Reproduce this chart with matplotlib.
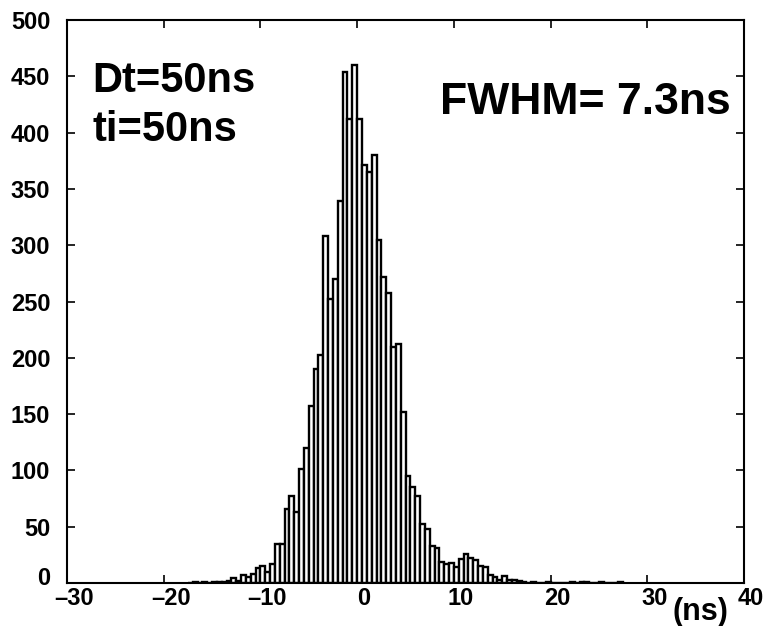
import numpy as np
import matplotlib
matplotlib.use("Agg")
import matplotlib.pyplot as plt
from matplotlib.transforms import ScaledTranslation

plt.rcParams.update({
    "font.family": ["Liberation Sans", "DejaVu Sans"],
    "font.weight": "bold",
})

# ---- data: timing histogram, 0.5 ns bins ----
bin_width = 0.5
first_edge = -17.5
counts = [
    0, 1, 0, 1, 0, 1, 1,
    1, 2, 4, 2, 7, 5, 8, 13, 15, 10, 17,
    35, 35, 66, 77, 63, 101, 120, 157, 190, 203,
    308, 252, 270, 339, 454, 412, 460, 412, 371, 365, 380, 305, 272, 258,
    210, 212, 152,
    95, 85, 77, 52, 48, 33, 31, 19, 17, 18, 14, 21, 26, 22, 20, 15, 14,
    7, 5, 3, 6, 3, 3, 2, 1,
    0, 1, 0, 0, 1, 0, 0, 0, 0, 1, 0, 1, 1, 0, 0, 1, 0, 0, 0, 1,
]
xticks = [-30, -20, -10, 0, 10, 20, 30, 40]
yticks = [0, 50, 100, 150, 200, 250, 300, 350, 400, 450, 500]
label_params = ["Dt=50ns", "ti=50ns"]
fwhm_label = "FWHM= 7.3ns"

left_edges = first_edge + bin_width * np.arange(len(counts))

fig = plt.figure(figsize=(7.65, 6.26), dpi=100)
ax = fig.add_axes([0.0876, 0.0687, 0.885, 0.899])

ax.bar(left_edges, counts, width=bin_width, align="edge",
       color="white", edgecolor="black", linewidth=1.7)

ax.set_xlim(-30, 40)
ax.set_ylim(0, 500)
ax.set_xticks(xticks)
ax.set_yticks(yticks)
ax.set_xticklabels([str(t).replace("-", "\u2013") for t in xticks])
ax.tick_params(direction="in", length=6, width=1.2, top=True, right=True,
               labelsize=17)
ax.tick_params(axis="x", pad=3)
ax.tick_params(axis="y", pad=12)
for sp in ax.spines.values():
    sp.set_linewidth(1.5)

# old-print look: x labels sit a little right of their ticks, the "0" a bit high
shift_x = ScaledTranslation(5 / 72, 0, fig.dpi_scale_trans)
for lab in ax.get_xticklabels():
    lab.set_fontweight("bold")
    lab.set_transform(lab.get_transform() + shift_x)
for lab in ax.get_yticklabels():
    lab.set_fontweight("bold")
ylabs = ax.get_yticklabels()
ylabs[0].set_transform(ylabs[0].get_transform()
                       + ScaledTranslation(0, 5 / 72, fig.dpi_scale_trans))

ax.text(-27.4, 436, label_params[0], fontsize=30, fontweight="bold", va="baseline")
ax.text(-27.4, 393, label_params[1], fontsize=30, fontweight="bold", va="baseline")
ax.text(8.6, 417, fwhm_label, fontsize=32, fontweight="bold", va="baseline")

fig.text(0.915, 0.022, "(ns)", fontsize=22, fontweight="bold",
         ha="center", va="center")

fig.savefig("out.png", dpi=100)
